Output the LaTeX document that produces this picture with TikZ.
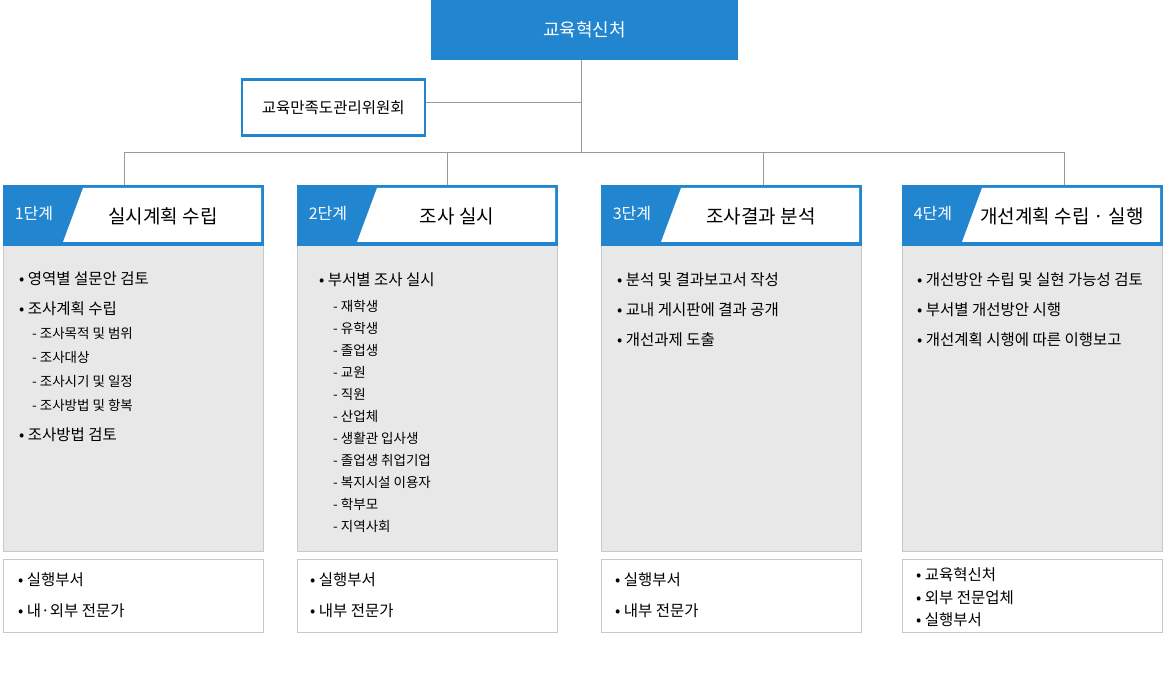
\documentclass[tikz,border=0pt]{standalone}
\usepackage{fontspec}
\setmainfont{Noto Sans CJK KR}
\definecolor{bl}{HTML}{2185D0}
\definecolor{gb}{HTML}{E8E8E8}
\definecolor{gl}{HTML}{C8C8C8}
\definecolor{ln}{HTML}{999999}
\tikzset{x=1pt,y=-1pt,
 it/.style={anchor=west,font=\fontsize{15.5}{17}\selectfont,inner sep=0},
 sub/.style={anchor=west,font=\fontsize{13.5}{15}\selectfont,inner sep=0},
 conn/.style={draw=ln,line width=0.8pt}}
\begin{document}
\begin{tikzpicture}
\useasboundingbox (0,0) rectangle (1169,700);
\node[fill=bl,minimum width=307pt,minimum height=60pt,inner sep=0,text=white,font=\fontsize{18}{20}\selectfont,anchor=north west] (top) at (431,0) {교육혁신처};
\node[draw=bl,line width=2.5pt,fill=white,minimum width=183pt,minimum height=56pt,inner sep=0,font=\fontsize{15.5}{17}\selectfont,anchor=north west] (com) at (240.5,78.5) {교육만족도관리위원회};
\coordinate (j1) at (581,102);
\coordinate (j2) at (581,152);
\draw[conn] (top.south -| j1) -- (j2);
\draw[conn] (com.east |- j1) -- (j1);
\foreach \n/\x/\st/\ti in {1/3/1단계/실시계획 수립,2/297/2단계/조사 실시,3/601/3단계/조사결과 분석,4/902/4단계/개선계획 수립 · 실행}{
 \fill[gb] (\x,245) rectangle ++(261,306);
 \draw[gl] (\x+0.5,245) rectangle ++(260,306);
 \draw[gl,fill=white] (\x+0.5,559.5) rectangle ++(260,73);
 \fill[bl] (\x,185) rectangle ++(261,61);
 \fill[white] (\x+80,188) -- (\x+258,188) -- (\x+258,242) -- (\x+60,242) -- cycle;
 \node[text=white,font=\fontsize{16}{17}\selectfont,inner sep=0] at (\x+31,214) {\st};
 \node[font=\fontsize{19}{20}\selectfont,inner sep=0] (h\n) at (\x+160,216) {\ti};
 \coordinate (d\n) at (\x+121,185);
}
\coordinate (d2) at (447,185); \coordinate (d3) at (763,185); \coordinate (d4) at (1064,185);
\draw[conn] (d1 |- j2) -- (d4 |- j2);
\foreach \n in {1,2,3,4}{\draw[conn] (d\n |- j2) -- (d\n);}
% col1
\node[it] at (19,279) {• 영역별 설문안 검토};
\node[it] at (19,309) {• 조사계획 수립};
\node[sub] at (32,333) {- 조사목적 및 범위};
\node[sub] at (32,357) {- 조사대상};
\node[sub] at (32,381) {- 조사시기 및 일정};
\node[sub] at (32,405) {- 조사방법 및 항복};
\node[it] at (19,435) {• 조사방법 검토};
% col2
\node[it] at (319,280) {• 부서별 조사 실시};
\foreach \t [count=\i from 0] in {재학생,유학생,졸업생,교원,직원,산업체,생활관 입사생,졸업생 취업기업,복지시설 이용자,학부모,지역사회}{
 \node[sub] at (333,306+22*\i) {- \t};}
% col3
\node[it] at (617,280) {• 분석 및 결과보고서 작성};
\node[it] at (617,310) {• 교내 게시판에 결과 공개};
\node[it] at (617,340) {• 개선과제 도출};
% col4
\node[it] at (917,280) {• 개선방안 수립 및 실현 가능성 검토};
\node[it] at (917,310) {• 부서별 개선방안 시행};
\node[it] at (917,340) {• 개선계획 시행에 따른 이행보고};
% bottoms
\node[it] at (18,580) {• 실행부서};
\node[it] at (18,611) {• 내·외부 전문가};
\node[it] at (310,580) {• 실행부서};
\node[it] at (310,611) {• 내부 전문가};
\node[it] at (615,580) {• 실행부서};
\node[it] at (615,611) {• 내부 전문가};
\node[it] at (916,575) {• 교육혁신처};
\node[it] at (916,598) {• 외부 전문업체};
\node[it] at (916,620) {• 실행부서};
\end{tikzpicture}
\end{document}
